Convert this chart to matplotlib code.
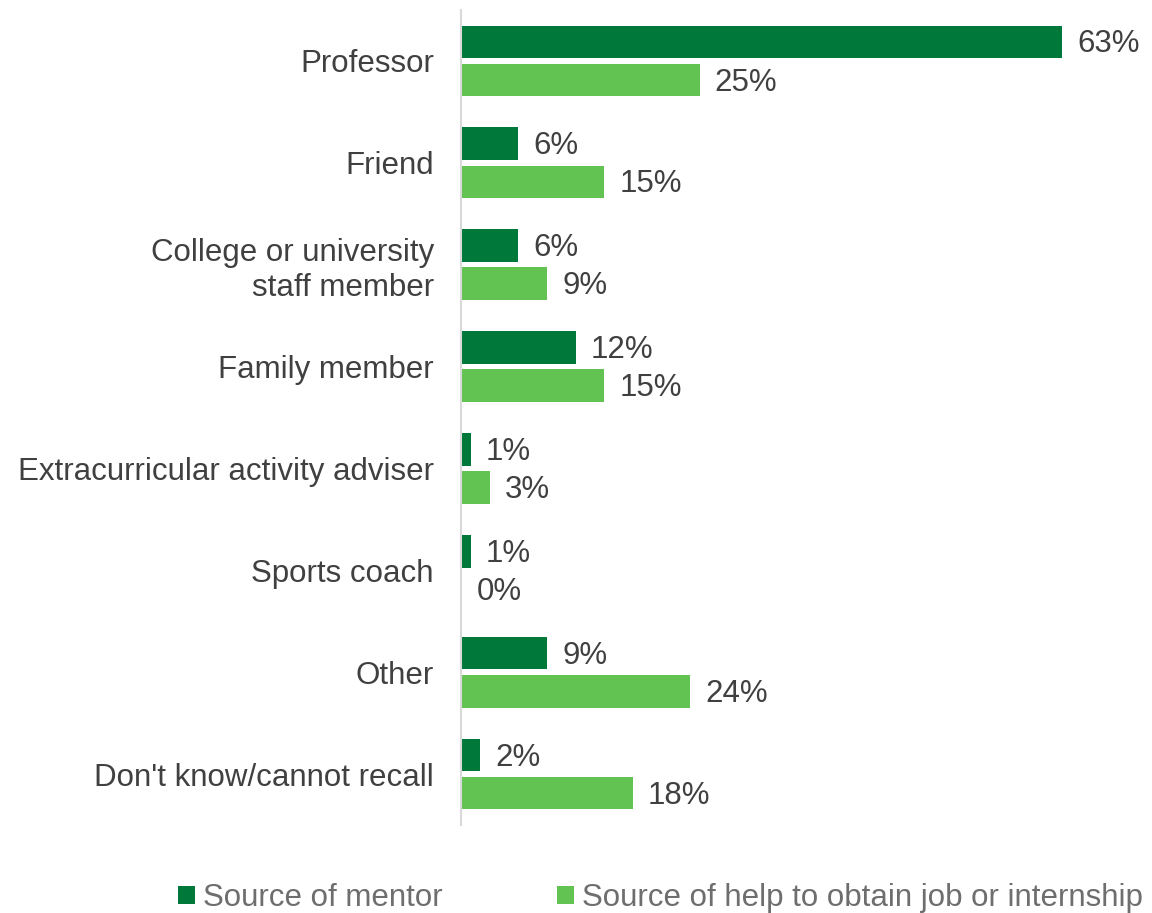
import numpy as np
import matplotlib.pyplot as plt

plt.rcParams['font.family'] = ['Liberation Sans', 'DejaVu Sans']

# dados
categorias = ['Professor', 'Friend', 'College or university\nstaff member', 'Family member',
              'Extracurricular activity adviser', 'Sports coach', 'Other', "Don't know/cannot recall"]
mentor = [63, 6, 6, 12, 1, 1, 9, 2]
emprego = [25, 15, 9, 15, 3, 0, 24, 18]
series = ['Source of mentor', 'Source of help to obtain job or internship']

cor_escura = '#00783A'
cor_clara = '#62C252'

fig = plt.figure(figsize=(11.52, 9.13), dpi=100)
ax = fig.add_axes([461 / 1152, 1 - 825 / 913, 0.99 - 461 / 1152, (825 - 10) / 913])

y = np.arange(len(categorias))
h = 0.32
off = 0.187
b1 = ax.barh(y - off, mentor, height=h, color=cor_escura, label=series[0])
b2 = ax.barh(y + off, emprego, height=h, color=cor_clara, label=series[1])

for barras, valores in [(b1, mentor), (b2, emprego)]:
    for barra, v in zip(barras, valores):
        ax.text(v + 1.6, barra.get_y() + barra.get_height() / 2 + 0.025, f'{v}%',
                va='center', ha='left', fontsize=22.5, color='#404040')

ax.set_yticks(y)
ax.set_yticklabels(categorias, fontsize=22.5, color='#404040', linespacing=1.2)
ax.tick_params(axis='y', length=0, pad=19.5)
ax.set_xticks([])
ax.set_xlim(0, 71.2)
ax.set_ylim(7.5, -0.5)
for lado in ['top', 'right', 'bottom']:
    ax.spines[lado].set_visible(False)
ax.spines['left'].set_color('#D9D9D9')
ax.spines['left'].set_linewidth(1.5)

leg = fig.legend(handles=[b1, b2], labels=series, loc='center', bbox_to_anchor=(0.5734, 1 - 898 / 913),
                 ncol=2, frameon=False, fontsize=22.5, handlelength=0.55, handleheight=0.55,
                 handletextpad=0.25, columnspacing=3.67, borderpad=0.1)
for t in leg.get_texts():
    t.set_color('#6E6E6E')

plt.savefig('out.png', dpi=100)
